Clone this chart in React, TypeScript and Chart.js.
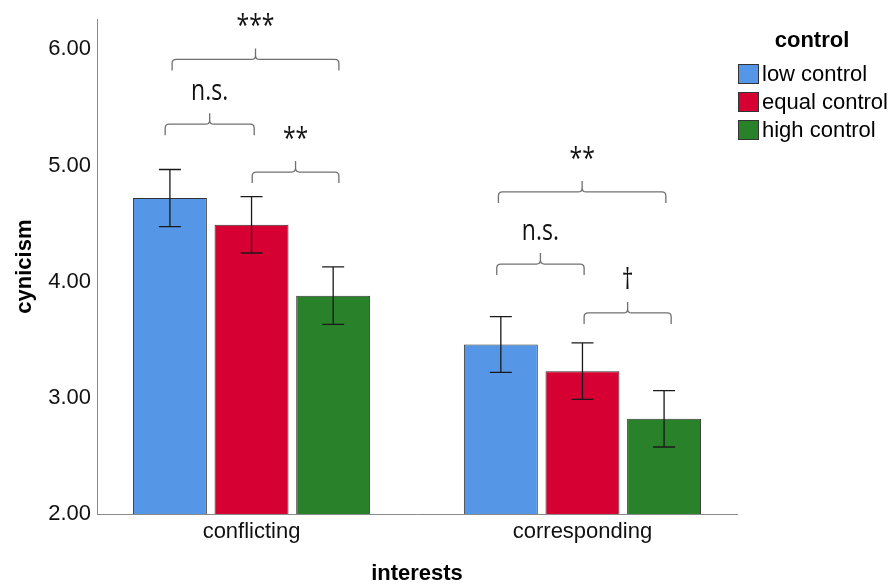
import React, { useEffect, useRef } from "react";
import { Chart, registerables } from "chart.js";

Chart.register(...registerables);

const CATEGORIES = ["conflicting", "corresponding"];
const SERIES = ["low control", "equal control", "high control"];
const LOW = [4.72, 3.46];
const EQUAL = [4.49, 3.23];
const HIGH = [3.88, 2.82];
const LOW_ERR = [0.246, 0.24];
const EQUAL_ERR = [0.243, 0.243];
const HIGH_ERR = [0.247, 0.243];
const COLORS = ["#5596E6", "#D70032", "#29822A"];
const Y_TICKS = [2, 3, 4, 5, 6];
const Y_MIN = 2;
const Y_MAX = 6.26;
const X_MIN = -0.467;
const X_MAX = 1.467;
const AXIS_TITLES = { x: "interests", y: "cynicism" };
const LEGEND_TITLE = "control";

// significance brackets: x in category units (group + offset), y in cynicism units
const BRACKET_LABELS = ["***", "n.s.", "**", "**", "n.s.", "\u2020"];
const BRACKET_GROUP = [0, 0, 0, 1, 1, 1];
const BRACKET_FROM = [-0.24, -0.261, 0.002, -0.254, -0.259, 0.005];
const BRACKET_TO = [0.264, 0.008, 0.264, 0.252, 0.005, 0.268];
const BRACKET_Y = [5.914, 5.356, 4.944, 4.773, 4.152, 3.731];

const FONT = "'Liberation Sans', Arial, sans-serif";
const NOTE_FONT = "'Open Sans', 'Liberation Sans', sans-serif";

const errorBarPlugin = {
  id: "errorBars",
  afterDatasetsDraw(chart: any) {
    const { ctx, scales } = chart;
    const y = scales.y;
    ctx.save();
    ctx.strokeStyle = "#1a1a1a";
    ctx.lineWidth = 1.3;
    chart.data.datasets.forEach((ds: any, di: number) => {
      const meta = chart.getDatasetMeta(di);
      meta.data.forEach((el: any, i: number) => {
        const v = ds.data[i].y;
        const e = ds.errors[i];
        const yt = y.getPixelForValue(v + e);
        const yb = y.getPixelForValue(v - e);
        const x = el.x;
        ctx.beginPath();
        ctx.moveTo(x, yt);
        ctx.lineTo(x, yb);
        ctx.moveTo(x - 11, yt);
        ctx.lineTo(x + 11, yt);
        ctx.moveTo(x - 11, yb);
        ctx.lineTo(x + 11, yb);
        ctx.stroke();
      });
    });
    ctx.restore();
  },
};

const bracketPlugin = {
  id: "brackets",
  afterDraw(chart: any) {
    const { ctx, scales } = chart;
    const xs = scales.x;
    const ys = scales.y;
    ctx.save();
    BRACKET_LABELS.forEach((label, i) => {
      const x1 = xs.getPixelForValue(BRACKET_GROUP[i] + BRACKET_FROM[i]);
      const x2 = xs.getPixelForValue(BRACKET_GROUP[i] + BRACKET_TO[i]);
      const xm = (x1 + x2) / 2;
      const y = ys.getPixelForValue(BRACKET_Y[i]);
      const d = 11;
      const r = 4;
      ctx.strokeStyle = "#707070";
      ctx.lineWidth = 1.3;
      ctx.beginPath();
      ctx.moveTo(x1, y + d);
      ctx.lineTo(x1, y + r);
      ctx.quadraticCurveTo(x1, y, x1 + r, y);
      ctx.lineTo(xm - r, y);
      ctx.quadraticCurveTo(xm, y, xm, y - r);
      ctx.lineTo(xm, y - d);
      ctx.moveTo(xm, y - r);
      ctx.quadraticCurveTo(xm, y, xm + r, y);
      ctx.lineTo(x2 - r, y);
      ctx.quadraticCurveTo(x2, y, x2, y + r);
      ctx.lineTo(x2, y + d);
      ctx.stroke();

      ctx.save();
      ctx.translate(xm, y - 24);
      ctx.scale(1, 1.3);
      ctx.font = `23px ${NOTE_FONT}`;
      ctx.fillStyle = "#111";
      ctx.textAlign = "center";
      ctx.textBaseline = "alphabetic";
      ctx.fillText(label, 0, 0);
      ctx.restore();
    });
    ctx.restore();
  },
};

const legendPlugin = {
  id: "spssLegend",
  afterDraw(chart: any) {
    const { ctx } = chart;
    ctx.save();
    ctx.fillStyle = "#000";
    ctx.textAlign = "center";
    ctx.textBaseline = "middle";
    ctx.font = `bold 22px ${FONT}`;
    ctx.fillText(LEGEND_TITLE, 812, 41);
    ctx.font = `22px ${FONT}`;
    ctx.textAlign = "left";
    chart.data.datasets.forEach((ds: any, i: number) => {
      const top = 64 + i * 28;
      ctx.fillStyle = ds.backgroundColor;
      ctx.fillRect(738, top, 21, 20);
      ctx.strokeStyle = "#333";
      ctx.lineWidth = 1;
      ctx.strokeRect(738.5, top + 0.5, 20, 19);
      ctx.fillStyle = "#000";
      ctx.fillText(ds.label, 762, top + 11);
    });
    ctx.restore();
  },
};

export default function App() {
  const ref = useRef<HTMLCanvasElement>(null);
  useEffect(() => {
    const values = [LOW, EQUAL, HIGH];
    const errs = [LOW_ERR, EQUAL_ERR, HIGH_ERR];
    const chart = new Chart(ref.current as HTMLCanvasElement, {
      type: "bar",
      data: {
        datasets: SERIES.map((label, s) => ({
          label,
          data: values[s].map((v, i) => ({ x: i, y: v })),
          errors: errs[s],
          backgroundColor: COLORS[s],
          borderColor: "#333333",
          borderWidth: 1,
          borderSkipped: false,
          categoryPercentage: 0.74,
          barPercentage: 0.906,
        })) as any,
      },
      options: {
        responsive: false,
        animation: false,
        devicePixelRatio: 1,
        layout: { padding: { left: 0, top: 18, right: 154, bottom: 0 } },
        plugins: {
          legend: { display: false },
          tooltip: { enabled: false },
        },
        scales: {
          x: {
            type: "linear",
            min: X_MIN,
            max: X_MAX,
            offset: false,
            grid: { display: false, drawTicks: false, offset: false },
            border: { display: true, color: "#8a8a8a", width: 1 },
            afterBuildTicks: (s: any) => {
              s.ticks = CATEGORIES.map((_, i) => ({ value: i }));
            },
            afterFit: (s: any) => {
              s.height = 71;
            },
            ticks: {
              padding: 5,
              color: "#111",
              font: { family: FONT, size: 22 },
              callback: (v: any) => CATEGORIES[Math.round(Number(v))] ?? "",
            },
            title: {
              display: true,
              text: AXIS_TITLES.x,
              color: "#000",
              font: { family: FONT, size: 22, weight: "bold", lineHeight: 1 },
              padding: { top: 0, bottom: 0 },
            },
          } as any,
          y: {
            type: "linear",
            min: Y_MIN,
            max: Y_MAX,
            grid: { display: false, drawTicks: false },
            border: { display: true, color: "#8a8a8a", width: 1 },
            afterBuildTicks: (s: any) => {
              s.ticks = Y_TICKS.map((v) => ({ value: v }));
            },
            afterFit: (s: any) => {
              s.width = 97;
            },
            ticks: {
              padding: 6,
              color: "#111",
              font: { family: FONT, size: 22 },
              callback: (v: any) => Number(v).toFixed(2),
            },
            title: {
              display: true,
              text: AXIS_TITLES.y,
              color: "#000",
              font: { family: FONT, size: 22, weight: "bold", lineHeight: 1 },
              padding: { top: 14, bottom: 0 },
            },
          } as any,
        },
      },
      plugins: [errorBarPlugin, bracketPlugin, legendPlugin],
    });
    return () => chart.destroy();
  }, []);
  return (
    <div
      style={{
        position: "absolute",
        left: 0,
        top: 0,
        width: 891,
        height: 585,
        background: "#fff",
      }}
    >
      <canvas
        ref={ref}
        width={891}
        height={585}
        style={{ display: "block", width: 891, height: 585 }}
      />
    </div>
  );
}
